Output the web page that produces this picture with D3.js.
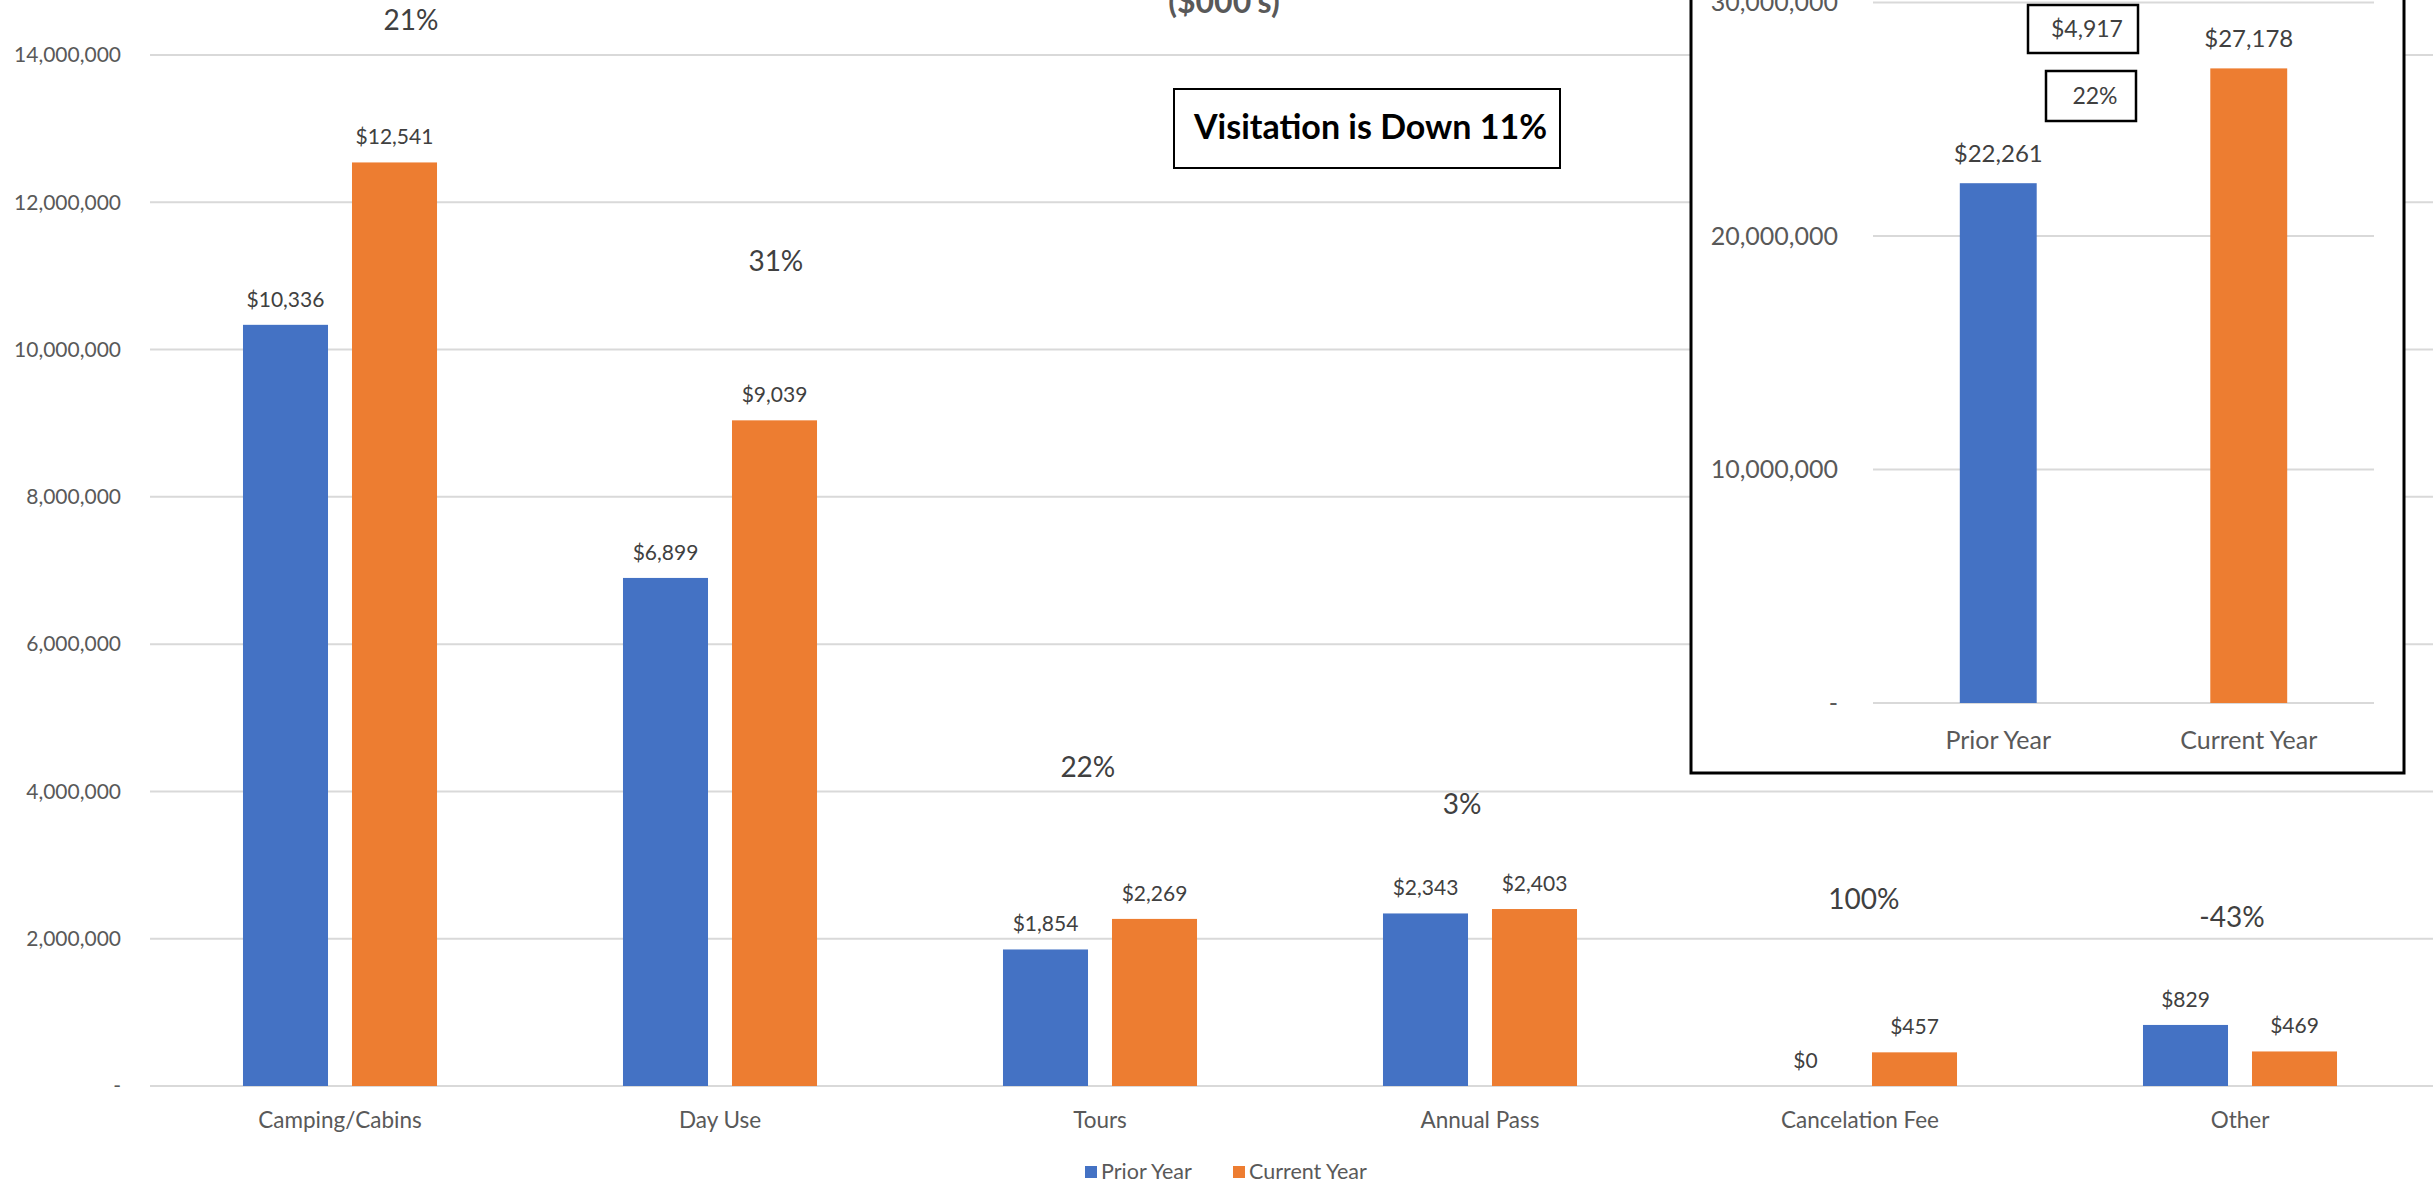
<!DOCTYPE html>
<html>
<head>
<meta charset="utf-8">
<script src="https://cdn.jsdelivr.net/npm/d3@7"></script>
<style>
  html, body { margin: 0; padding: 0; background: #fff; overflow: hidden; }
  svg { display: block; font-family: Lato, "Open Sans", sans-serif; }
</style>
</head>
<body>
<svg id="chart" width="2433" height="1185"></svg>
<script>
// ---------- data ($000's) ----------
const categories = ["Camping/Cabins", "Day Use", "Tours", "Annual Pass", "Cancelation Fee", "Other"];
const series = ["Prior Year", "Current Year"];
const priorYear = [10336, 6899, 1854, 2343, 0, 829];
const currentYear = [12541, 9039, 2269, 2403, 457, 469];
const pctChange = ["21%", "31%", "22%", "3%", "100%", "-43%"];
// where each percent note sits: value (in $) and offset across the category band
const pctNoteValue = [14470000, 11200000, 4330000, 3830000, 2530000, 2290000];
const pctNoteShift = [0.187, 0.147, -0.032, -0.047, 0.01, -0.021];
const yTicks = [0, 2000000, 4000000, 6000000, 8000000, 10000000, 12000000, 14000000];

const totalYears = ["Prior Year", "Current Year"];
const totalValues = [22261, 27178];
const totalTicks = [0, 10000000, 20000000, 30000000];
const totalDiffLabel = "$4,917";
const totalPctLabel = "22%";
const visitationNote = "Visitation is Down 11%";
const titleText = "($000's)";

const colors = { "Prior Year": "#4472C4", "Current Year": "#ED7D31" };
const gridColor = "#d9d9d9";
const axisText = "#595959";
const labelText = "#404040";

const svg = d3.select("#chart");
const money = v => "$" + d3.format(",")(v);
const tickFmt = v => v === 0 ? "-" : d3.format(",")(v);

// ---------- main chart ----------
const x = d3.scaleBand().domain(categories).range([150, 2430]).paddingInner(0).paddingOuter(0);
const xs = d3.scaleBand().domain(series).range([0, x.bandwidth()]).paddingInner(0.22).paddingOuter(0.853);
const y = d3.scaleLinear().domain([0, 14000000]).range([1086, 55]);

const main = svg.append("g");

// gridlines
main.append("g").selectAll("line").data(yTicks).join("line")
  .attr("x1", 150).attr("x2", 2433)
  .attr("y1", d => y(d)).attr("y2", d => y(d))
  .attr("stroke", gridColor).attr("stroke-width", 2);

// y axis labels
const yAxis = d3.axisLeft(y).tickValues(yTicks).tickFormat(tickFmt).tickSize(0).tickPadding(0);
main.append("g").attr("transform", "translate(121,0)").call(yAxis)
  .call(g => g.select(".domain").remove())
  .call(g => g.selectAll("text").attr("fill", axisText).attr("font-size", 21).attr("font-family", "Lato"));

// x axis labels
const xAxis = d3.axisBottom(x).tickSize(0).tickPadding(0);
main.append("g").attr("transform", "translate(0,1112)").call(xAxis)
  .call(g => g.select(".domain").remove())
  .call(g => g.selectAll("text").attr("fill", axisText).attr("font-size", 22.5).attr("font-family", "Lato"));

const rows = categories.map((c, i) => ({ cat: c, vals: [
  { s: "Prior Year", v: priorYear[i] * 1000, raw: priorYear[i] },
  { s: "Current Year", v: currentYear[i] * 1000, raw: currentYear[i] }
]}));

const groups = main.append("g").selectAll("g").data(rows).join("g")
  .attr("transform", d => `translate(${x(d.cat)},0)`);

groups.selectAll("rect").data(d => d.vals).join("rect")
  .attr("x", d => xs(d.s)).attr("width", xs.bandwidth())
  .attr("y", d => y(d.v)).attr("height", d => y(0) - y(d.v))
  .attr("fill", d => colors[d.s]);

groups.selectAll("text.val").data(d => d.vals).join("text").attr("class", "val")
  .attr("x", d => xs(d.s) + xs.bandwidth() / 2)
  .attr("y", d => y(d.v) - 18)
  .attr("text-anchor", "middle")
  .attr("font-size", 21).attr("fill", labelText)
  .text(d => money(d.raw));

// percent notes
main.append("g").selectAll("text").data(categories).join("text")
  .attr("x", (d, i) => x(d) + x.bandwidth() / 2 + pctNoteShift[i] * x.bandwidth())
  .attr("y", (d, i) => y(pctNoteValue[i]))
  .attr("dy", "0.35em")
  .attr("text-anchor", "middle")
  .attr("font-size", 28).attr("fill", labelText)
  .text((d, i) => pctChange[i]);

// legend
const legend = main.append("g").attr("transform", "translate(0,1171)");
const legX = [1085, 1233];
series.forEach((s, i) => {
  legend.append("rect").attr("x", legX[i]).attr("y", -5).attr("width", 12).attr("height", 12).attr("fill", colors[s]);
  legend.append("text").attr("x", legX[i] + 16).attr("y", 0).attr("dy", "0.38em")
    .attr("font-size", 21.5).attr("fill", axisText).text(s);
});

// title (partly cut off at top, as in the source)
svg.append("text").attr("x", 1224).attr("y", 13).attr("text-anchor", "middle")
  .attr("font-size", 32).attr("font-weight", "bold").attr("fill", axisText).text(titleText);

// visitation note
const vis = svg.append("g");
vis.append("rect").attr("x", 1174).attr("y", 89).attr("width", 386).attr("height", 79)
  .attr("fill", "#fff").attr("stroke", "#000").attr("stroke-width", 2);
vis.append("text").attr("x", 1194).attr("y", 127).attr("dy", "0.35em")
  .attr("font-size", 34).attr("font-weight", "bold").attr("fill", "#000").text(visitationNote);

// ---------- inset: totals ----------
const inset = svg.append("g");
inset.append("rect").attr("x", 1691).attr("y", -10).attr("width", 713).attr("height", 783)
  .attr("fill", "#fff").attr("stroke", "#000").attr("stroke-width", 3);

const xi = d3.scaleBand().domain(totalYears).range([1873, 2374]).paddingInner(0.693).paddingOuter(0.3465);
const yi = d3.scaleLinear().domain([0, 30000000]).range([703, 2.5]);

inset.append("g").selectAll("line").data(totalTicks).join("line")
  .attr("x1", 1873).attr("x2", 2374)
  .attr("y1", d => yi(d)).attr("y2", d => yi(d))
  .attr("stroke", gridColor).attr("stroke-width", 2);

inset.append("g").attr("transform", "translate(1838,0)")
  .call(d3.axisLeft(yi).tickValues(totalTicks).tickFormat(tickFmt).tickSize(0).tickPadding(0))
  .call(g => g.select(".domain").remove())
  .call(g => g.selectAll("text").attr("fill", axisText).attr("font-size", 25).attr("font-family", "Lato"));

inset.append("g").attr("transform", "translate(0,731)")
  .call(d3.axisBottom(xi).tickSize(0).tickPadding(0))
  .call(g => g.select(".domain").remove())
  .call(g => g.selectAll("text").attr("fill", axisText).attr("font-size", 25).attr("font-family", "Lato"));

const totals = totalYears.map((s, i) => ({ s, v: totalValues[i] * 1000, raw: totalValues[i] }));
inset.append("g").selectAll("rect").data(totals).join("rect")
  .attr("x", d => xi(d.s)).attr("width", xi.bandwidth())
  .attr("y", d => yi(d.v)).attr("height", d => yi(0) - yi(d.v))
  .attr("fill", d => colors[d.s]);
inset.append("g").selectAll("text").data(totals).join("text")
  .attr("x", d => xi(d.s) + xi.bandwidth() / 2)
  .attr("y", d => yi(d.v) - 30).attr("dy", "0.35em")
  .attr("text-anchor", "middle").attr("font-size", 24).attr("fill", labelText)
  .text(d => money(d.raw));

// difference boxes
const diffBoxes = [
  { text: totalDiffLabel, cx: 2083, cy: 29, w: 110, h: 48 },
  { text: totalPctLabel, cx: 2091, cy: 96, w: 90, h: 50 }
];
const db = inset.append("g").selectAll("g").data(diffBoxes).join("g");
db.append("rect").attr("x", d => d.cx - d.w / 2).attr("y", d => d.cy - d.h / 2)
  .attr("width", d => d.w).attr("height", d => d.h)
  .attr("fill", "#fff").attr("stroke", "#000").attr("stroke-width", 2.5);
db.append("text").attr("x", d => d.cx + 4).attr("y", d => d.cy).attr("dy", "0.35em")
  .attr("text-anchor", "middle").attr("font-size", 23).attr("fill", labelText).text(d => d.text);
</script>
</body>
</html>
